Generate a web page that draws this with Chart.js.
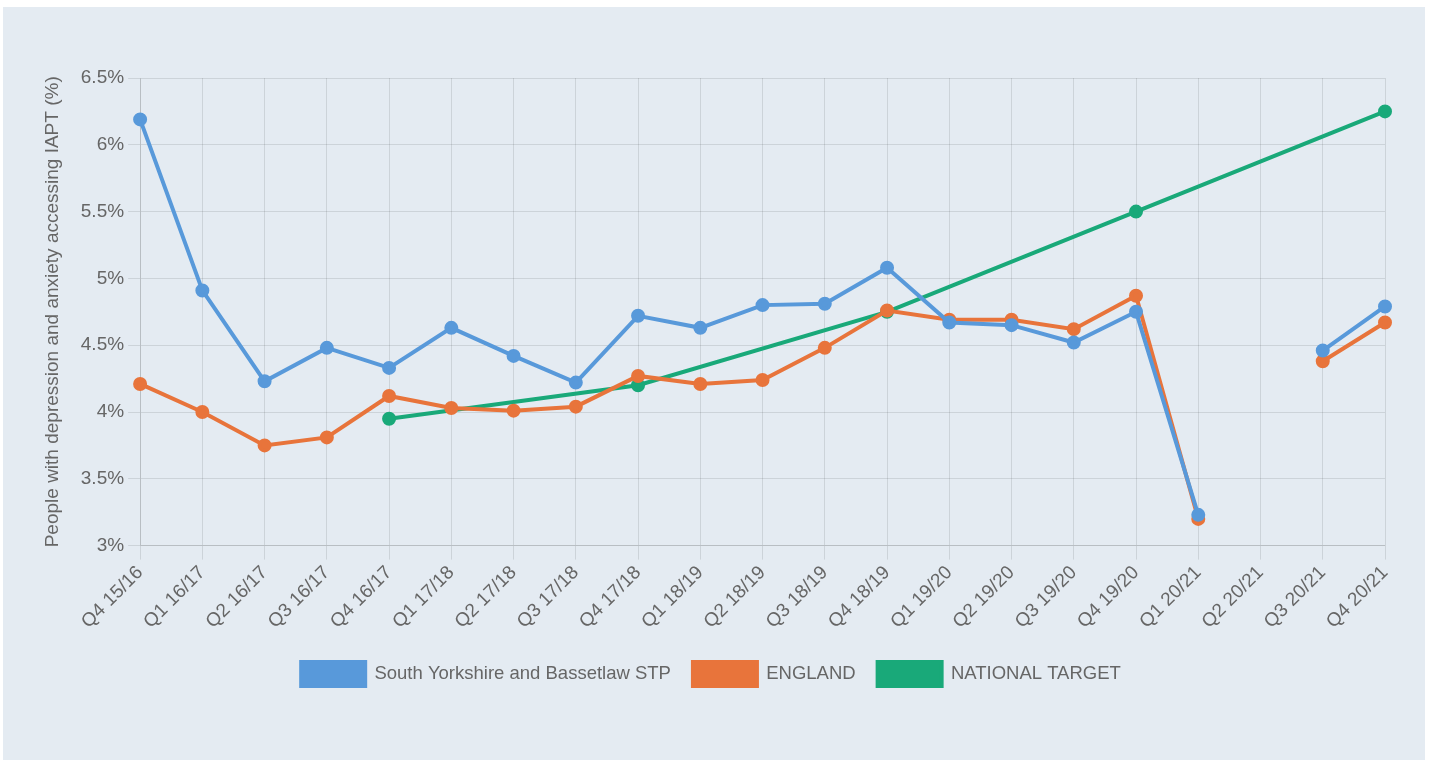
<!DOCTYPE html>
<html>
<head>
<meta charset="utf-8">
<script src="https://cdn.jsdelivr.net/npm/chart.js@4.4.0/dist/chart.umd.min.js"></script>
<style>
	body { margin: 0; background: #fff; }
	#panel { position: absolute; left: 3px; top: 7px; width: 1422px; height: 753px; background: #e4ebf2; }
</style>
</head>
<body>
<div id="panel"><canvas id="myChart" width="1422" height="753"></canvas></div>
<script>
const quarters = ["Q4 15/16", "Q1 16/17", "Q2 16/17", "Q3 16/17", "Q4 16/17", "Q1 17/18", "Q2 17/18", "Q3 17/18",
	"Q4 17/18", "Q1 18/19", "Q2 18/19", "Q3 18/19", "Q4 18/19", "Q1 19/20", "Q2 19/20", "Q3 19/20",
	"Q4 19/20", "Q1 20/21", "Q2 20/21", "Q3 20/21", "Q4 20/21"];
const southYorkshire = [6.19, 4.91, 4.23, 4.48, 4.33, 4.63, 4.42, 4.22, 4.72, 4.63, 4.80, 4.81, 5.08,
	4.67, 4.65, 4.52, 4.75, 3.23, null, 4.46, 4.79];
const england = [4.21, 4.00, 3.75, 3.81, 4.12, 4.03, 4.01, 4.04, 4.27, 4.21, 4.24, 4.48, 4.76,
	4.69, 4.69, 4.62, 4.87, 3.20, null, 4.38, 4.67];
const nationalTarget = [null, null, null, null, 3.95, null, null, null, 4.20, null, null, null, 4.75,
	null, null, null, 5.50, null, null, null, 6.25];
const yTicks = [3, 3.5, 4, 4.5, 5, 5.5, 6, 6.5];

Chart.defaults.font.family = "'Liberation Sans', Arial, Helvetica, sans-serif";
Chart.defaults.font.size = 19;
Chart.defaults.color = "#666";

const ctx = document.getElementById("myChart").getContext("2d");
const myChart = new Chart(ctx, {
	type: "line",
	data: {
		labels: quarters,
		datasets: [
			{
				label: "South Yorkshire and Bassetlaw STP",
				data: southYorkshire,
				borderColor: "#5899da",
				backgroundColor: "#5899da",
				borderWidth: 4,
				pointRadius: 5,
				tension: 0,
				spanGaps: false,
			},
			{
				label: "ENGLAND",
				data: england,
				borderColor: "#e8743b",
				backgroundColor: "#e8743b",
				borderWidth: 4,
				pointRadius: 5,
				tension: 0,
				spanGaps: false,
			},
			{
				label: "NATIONAL TARGET",
				data: nationalTarget,
				borderColor: "#19a979",
				backgroundColor: "#19a979",
				borderWidth: 4,
				pointRadius: 5,
				tension: 0,
				spanGaps: true,
			},
		],
	},
	options: {
		responsive: false,
		animation: false,
		layout: {
			padding: { top: 71, right: 40, bottom: 64, left: 34 },
		},
		plugins: {
			legend: {
				position: "bottom",
				labels: {
					boxWidth: 64,
					boxHeight: 24,
					padding: 22,
					font: { size: 18.5 },
				},
			},
			tooltip: { enabled: false },
		},
		scales: {
			x: {
				grid: { color: "rgba(0,0,0,0.1)", tickLength: 14 },
				ticks: { minRotation: 45, maxRotation: 45, autoSkip: false, padding: 2 },
				afterFit: (scale) => { scale.height += 5; },
			},
			y: {
				min: 3,
				max: 6.5,
				afterBuildTicks: (axis) => { axis.ticks = yTicks.map(v => ({ value: v })); },
				grid: { color: "rgba(0,0,0,0.1)", tickLength: 12 },
				ticks: {
					padding: 4,
					callback: (v) => v + "%",
				},
				title: {
					display: true,
					text: "People with depression and anxiety accessing IAPT (%)",
					font: { size: 19 },
					padding: { top: 4, bottom: 13 },
				},
			},
		},
	},
});
</script>
</body>
</html>
